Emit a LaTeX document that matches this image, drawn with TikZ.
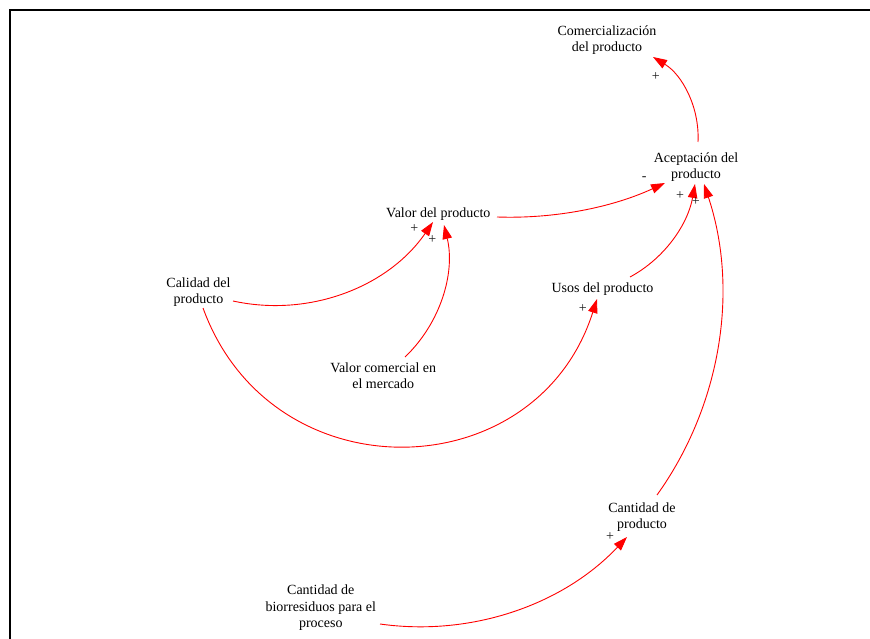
\documentclass[tikz,border=0pt]{standalone}
\usepackage{fontspec}
\setmainfont{Liberation Serif}
\usetikzlibrary{arrows.meta,calc}
\begin{document}
\begin{tikzpicture}[x=1pt,y=-1pt,
  lbl/.style={font=\fontsize{14}{16.5}\selectfont, align=center, inner sep=0pt, text=black},
  sgn/.style={font=\fontsize{14}{14}\selectfont, inner sep=0pt, text=black!90},
  link/.style={draw=red, line width=0.9pt, -{Triangle[length=14pt,width=9.5pt]}},
  frame/.style={draw=black, line width=2.2pt}
]
\useasboundingbox (0,0) rectangle (870,639);
\draw[frame] (9.7,639) -- (9.7,10.3) -- (870,10.3);

\node[lbl] (comer) at (607,40.3) {Comercialización\\del producto};
\node[lbl] (acep) at (696,167.2) {Aceptación del\\producto};
\node[lbl] (valor) at (438.3,214.3) {Valor del producto};
\node[lbl] (calidad) at (198.5,292.3) {Calidad del\\producto};
\node[lbl] (usos) at (602.5,289.3) {Usos del producto};
\node[lbl] (vcm) at (383.3,375.8) {Valor comercial en\\el mercado};
\node[lbl] (cantp) at (642,517.3) {Cantidad de\\producto};
\node[lbl] (bio) at (320.8,607.8) {Cantidad de\\biorresiduos para el\\proceso};

\draw[link] ($(acep)+(2,-25.2)$) .. controls (699.7,107.5) and (682.5,75) .. ($(comer)+(46,16.7)$);
\draw[link] ($(valor)+(58.7,2.7)$) .. controls (554.9,219) and (612.4,207.3) .. ($(acep)+(-31,15.8)$);
\draw[link] ($(usos)+(27.5,-12.3)$) .. controls (665.4,257.9) and (688,223.6) .. ($(acep)+(-1,16.8)$);
\draw[link] ($(cantp)+(15,-22.3)$) .. controls (721.5,404.9) and (739,289.1) .. ($(acep)+(8,16.8)$);
\draw[link] ($(calidad)+(34.5,8.7)$) .. controls (309.7,317.8) and (388.5,286.7) .. ($(valor)+(-5.3,7.7)$);
\draw[link] ($(vcm)+(21.7,-18.8)$) .. controls (440.5,323.2) and (455.5,272.7) .. ($(valor)+(5.7,10.7)$);
\draw[link] ($(calidad)+(4.5,15.7)$) .. controls (271.4,496.1) and (536.4,489.7) .. ($(usos)+(-5.5,9.7)$);
\draw[link] ($(bio)+(59.2,16.2)$) .. controls (471.7,636.9) and (563.6,604.5) .. ($(cantp)+(-15,19.7)$);

\node[sgn] (s1) at (655.7,76.5) {+};
\node[sgn] (s2) at (644.3,178.5) {-};
\node[sgn] (s3) at (680,195.5) {+};
\node[sgn] (s4) at (695.7,202) {+};
\node[sgn] (s5) at (414.3,228.8) {+};
\node[sgn] (s6) at (432.3,239.8) {+};
\node[sgn] (s7) at (582.7,308.8) {+};
\node[sgn] (s8) at (610,536.5) {+};
\end{tikzpicture}
\end{document}
